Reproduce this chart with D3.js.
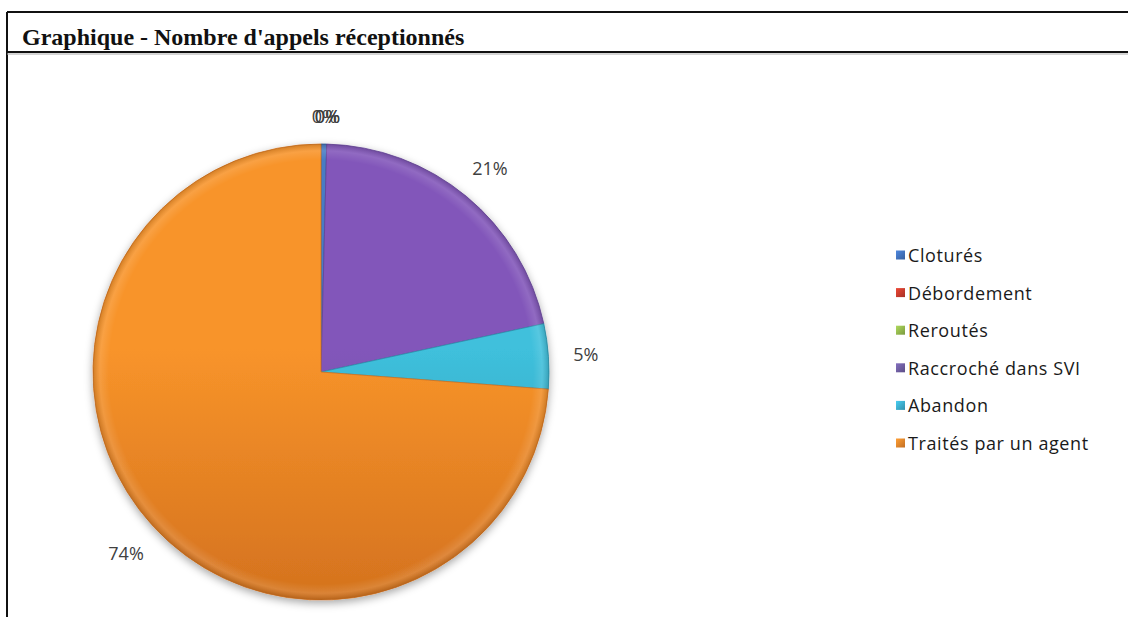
<!DOCTYPE html>
<html><head><meta charset="utf-8">
<script src="https://cdn.jsdelivr.net/npm/d3@7"></script>
<style>
html,body{margin:0;padding:0;background:#fff;}
svg{display:block;}
</style></head>
<body>
<svg id="chart" width="1128" height="617"></svg>
<script>
const categories = ["Clotur\u00e9s", "D\u00e9bordement", "Rerout\u00e9s", "Raccroch\u00e9 dans SVI", "Abandon", "Trait\u00e9s par un agent"];
const values = [0.4, 0, 0, 21.2, 4.6, 73.8];
const colorsLight = ["#4a7cc4", "#d04a45", "#a2c25e", "#8257ba", "#3fc0dc", "#f8942a"];
const colorsDark  = ["#2f5a96", "#9e2f2b", "#7a9a3e", "#66449a", "#2b93ad", "#d4721e"];
const legendColors = ["#3f6eb5", "#c0392b", "#8db04a", "#6a5a9a", "#3aa6c4", "#e0802a"];
const title = "Graphique - Nombre d'appels r\u00e9ceptionn\u00e9s";

const svg = d3.select("#chart");
const W = 1128, H = 617;
const cx = 321, cy = 372, R = 228;

const defs = svg.append("defs");
const f = defs.append("filter").attr("id","shadow").attr("x","-20%").attr("y","-20%").attr("width","140%").attr("height","140%");
f.append("feDropShadow").attr("dx",0).attr("dy",3).attr("stdDeviation",4).attr("flood-color","#000").attr("flood-opacity",0.35);

categories.forEach((c,i)=>{
  const g = defs.append("linearGradient").attr("id","grad"+i)
    .attr("gradientUnits","userSpaceOnUse")
    .attr("x1",0).attr("y1",-R).attr("x2",0).attr("y2",R);
  g.append("stop").attr("offset","0%").attr("stop-color",colorsLight[i]);
  g.append("stop").attr("offset","45%").attr("stop-color",colorsLight[i]);
  g.append("stop").attr("offset","100%").attr("stop-color",colorsDark[i]);
  const s = defs.append("linearGradient").attr("id","sw"+i).attr("x1",0).attr("y1",0).attr("x2",1).attr("y2",1);
  s.append("stop").attr("offset","0%").attr("stop-color",d3.color(legendColors[i]).brighter(0.6));
  s.append("stop").attr("offset","100%").attr("stop-color",d3.color(legendColors[i]).darker(0.4));
});
const rg = defs.append("radialGradient").attr("id","bevel")
  .attr("gradientUnits","userSpaceOnUse").attr("cx",0).attr("cy",0).attr("r",R);
rg.append("stop").attr("offset","0%").attr("stop-color","#fff").attr("stop-opacity",0);
rg.append("stop").attr("offset","93%").attr("stop-color","#fff").attr("stop-opacity",0);
rg.append("stop").attr("offset","97%").attr("stop-color","#fff").attr("stop-opacity",0.12);
rg.append("stop").attr("offset","100%").attr("stop-color","#000").attr("stop-opacity",0.15);

// Frame
svg.append("line").attr("x1",7).attr("y1",12).attr("x2",W).attr("y2",12).attr("stroke","#111").attr("stroke-width",2);
svg.append("line").attr("x1",7).attr("y1",12).attr("x2",7).attr("y2",H).attr("stroke","#111").attr("stroke-width",2);
svg.append("line").attr("x1",7).attr("y1",52).attr("x2",W).attr("y2",52).attr("stroke","#111").attr("stroke-width",2);
svg.append("line").attr("x1",7).attr("y1",54).attr("x2",W).attr("y2",54).attr("stroke","#aaa").attr("stroke-width",1);

svg.append("text").attr("x",22).attr("y",45)
  .attr("font-family","'Liberation Serif', 'DejaVu Serif', serif")
  .attr("font-weight","bold").attr("font-size",24).attr("fill","#111")
  .text(title);

// Pie
const data = categories.map((c,i)=>({name:c, value:values[i], i}));
const total = d3.sum(values);
const pie = d3.pie().value(d=>d.value).sort(null);
const arcs = pie(data);
const arc = d3.arc().innerRadius(0).outerRadius(R);

const g = svg.append("g").attr("transform",`translate(${cx},${cy})`);
const pg = g.append("g").attr("filter","url(#shadow)");
pg.selectAll("path.slice").data(arcs.filter(a=>a.value>0)).join("path")
  .attr("class","slice")
  .attr("d",arc)
  .attr("fill",d=>`url(#grad${d.data.i})`)
  .attr("stroke",d=>colorsDark[d.data.i])
  .attr("stroke-width",0.8);
g.append("circle").attr("r",R).attr("fill","url(#bevel)").attr("pointer-events","none");

// Labels
const lw = 34, lh = 16;
g.selectAll("text.lbl").data(arcs).join("text")
  .attr("class","lbl")
  .attr("font-family","'Open Sans', sans-serif").attr("font-size",18).attr("fill","#404040")
  .attr("text-anchor","middle").attr("dominant-baseline","central")
  .attr("x",d=>{const a=(d.startAngle+d.endAngle)/2; const ext=Math.abs(Math.sin(a))*lw/2+Math.abs(Math.cos(a))*lh/2; return Math.sin(a)*(R+20+ext);})
  .attr("y",d=>{const a=(d.startAngle+d.endAngle)/2; const ext=Math.abs(Math.sin(a))*lw/2+Math.abs(Math.cos(a))*lh/2; return -Math.cos(a)*(R+20+ext);})
  .text(d=>Math.round(d.value/total*100)+"%");

// Legend
const ly = d3.scalePoint().domain(categories).range([255,443]);
const lg = svg.append("g");
const items = lg.selectAll("g").data(categories).join("g")
  .attr("transform",d=>`translate(896,${ly(d)})`);
items.append("rect").attr("x",0).attr("y",-4.5).attr("width",9).attr("height",9)
  .attr("fill",(d,i)=>`url(#sw${i})`);
items.append("text").attr("x",12).attr("y",0).attr("dominant-baseline","central")
  .attr("font-family","'Open Sans', sans-serif").attr("font-size",18).attr("letter-spacing",0.6).attr("fill","#1a1a1a")
  .text(d=>d);
</script>
</body></html>
